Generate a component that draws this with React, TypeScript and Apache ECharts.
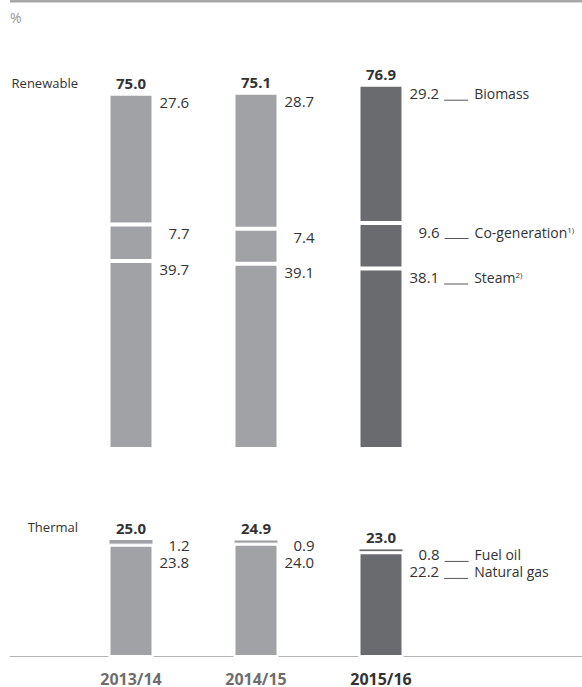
import React, { useEffect, useRef } from 'react';
import * as echarts from 'echarts';

// ---- data ----
const years = ['2013/14', '2014/15', '2015/16'];
const biomass = [27.6, 28.7, 29.2];
const cogeneration = [7.7, 7.4, 9.6];
const steam = [39.7, 39.1, 38.1];
const renewableTotal = [75.0, 75.1, 76.9];
const fuelOil = [1.2, 0.9, 0.8];
const naturalGas = [23.8, 24.0, 22.2];
const thermalTotal = [25.0, 24.9, 23.0];

const LIGHT = '#a1a2a6';
const DARK = '#6a6b6f';
const TEXT = '#333333';
const FONT = '"Open Sans", sans-serif';
const NUM_FONT_SIZE = 15;
const NUM_W = 32;
const last = years.length - 1;
const fmt = (v: number) => v.toFixed(1);
const colorFn = (p: any) => (p.dataIndex === last ? DARK : LIGHT);

let ctx: CanvasRenderingContext2D | null = null;
const measure = (s: string) => {
  if (!ctx) ctx = document.createElement('canvas').getContext('2d');
  if (!ctx) return s.length * 8;
  ctx.font = `${NUM_FONT_SIZE}px ${FONT}`;
  return ctx.measureText(s).width;
};

const RICH: any = {
  v: { fontSize: NUM_FONT_SIZE, lineHeight: 14, color: TEXT, fontFamily: FONT, verticalAlign: 'bottom' },
  sp: { width: 5, lineHeight: 14, fontSize: 14 },
  ln: { width: 24, height: 1, backgroundColor: '#555', verticalAlign: 'bottom' },
  sp2: { width: 6, lineHeight: 14, fontSize: 14 },
  t: { fontSize: 14, lineHeight: 14, color: TEXT, fontFamily: FONT, verticalAlign: 'bottom' },
  sup: { fontSize: 8, lineHeight: 10, color: TEXT, fontFamily: FONT, verticalAlign: 'top' },
  pad: { width: 0, height: 17, lineHeight: 17, fontSize: 14 },
};
for (let i = 0; i <= 40; i++) RICH['p' + i] = { width: i, lineHeight: 14, fontSize: 14 };

const num = (v: number) => {
  const s = fmt(v);
  const pad = Math.max(0, Math.min(40, Math.round(NUM_W - measure(s))));
  return `{p${pad}| }{v|${s}}`;
};

const tail = (name: string, note?: string) =>
  `{sp| }{ln| }{sp2| }{t|${name}}` + (note ? `{sup|${note}}` : '');

const baseLabel = {
  show: true,
  align: 'left',
  verticalAlign: 'top',
  lineHeight: 14,
  fontFamily: FONT,
  fontSize: 14,
  color: TEXT,
  rich: RICH,
};

const segLabel = (values: number[], name: string, note: string | undefined) => ({
  ...baseLabel,
  position: [49, 2],
  formatter: (p: any) => num(values[p.dataIndex]) + (p.dataIndex === last ? tail(name, note) : ''),
});

const thermalLabel = {
  ...baseLabel,
  position: [49, -0.5],
  formatter: (p: any) => {
    const i = p.dataIndex;
    const l1 = num(fuelOil[i]) + (i === last ? tail('Fuel oil') : '');
    const l2 = '{pad| }' + num(naturalGas[i]) + (i === last ? tail('Natural gas') : '');
    return l1 + '\n' + l2;
  },
};

const totalLabel = (totals: number[]) => ({
  show: true,
  position: 'top',
  distance: 4,
  fontFamily: FONT,
  fontSize: 15,
  fontWeight: 'bold',
  lineHeight: 14,
  color: TEXT,
  formatter: (p: any) => fmt(totals[p.dataIndex]),
});

const barBase = (w: number) => ({
  type: 'bar',
  barWidth: 45,
  barGap: '-100%',
  emphasis: { disabled: true },
  itemStyle: { color: colorFn, borderColor: '#ffffff', borderWidth: w },
});

export default function App() {
  const ref = useRef<HTMLDivElement>(null);
  useEffect(() => {
    if (!ref.current) return;
    const chart = echarts.init(ref.current, undefined, { renderer: 'svg' });
    const option: any = {
      animation: false,
      textStyle: { fontFamily: FONT },
      grid: [
        { left: 68.5, width: 375, top: 70, height: 379 },
        { left: 68.5, width: 375, top: 515.375, height: 142.125 },
        { left: 10, width: 572, top: 600, height: 56 },
      ],
      xAxis: [
        { type: 'category', gridIndex: 0, data: years, axisLine: { show: false }, axisTick: { show: false }, axisLabel: { show: false } },
        {
          type: 'category', gridIndex: 1, data: years,
          axisLine: { show: false }, axisTick: { show: false },
          axisLabel: {
            margin: 15,
            formatter: (v: string, i: number) => (i === last ? `{cur|${v}}` : `{old|${v}}`),
            rich: {
              old: { fontFamily: FONT, fontSize: 16, fontWeight: 'bold', color: '#6e6e6e', lineHeight: 14 },
              cur: { fontFamily: FONT, fontSize: 16, fontWeight: 'bold', color: '#333333', lineHeight: 14 },
            },
          },
        },
        {
          type: 'value', gridIndex: 2, min: 0, max: 1,
          axisLine: { show: true, onZero: false, lineStyle: { color: '#b4b4b4', width: 1 } },
          axisTick: { show: false }, axisLabel: { show: false }, splitLine: { show: false },
        },
      ],
      yAxis: [
        { type: 'value', gridIndex: 0, min: 0, max: 80, show: false },
        { type: 'value', gridIndex: 1, min: 0, max: 30, show: false },
        { type: 'value', gridIndex: 2, min: 0, max: 1, show: false },
      ],
      graphic: [
        { type: 'rect', left: 10, top: 0, shape: { width: 572, height: 2.5 }, style: { fill: '#a8a8a8' } },
        { type: 'text', x: 10, y: 17, style: { text: '%', fill: '#999999', font: `14px ${FONT}`, verticalAlign: 'middle' } },
        { type: 'text', x: 78, y: 83, style: { text: 'Renewable', fill: TEXT, font: `13px ${FONT}`, align: 'right', verticalAlign: 'middle' } },
        { type: 'text', x: 78, y: 527, style: { text: 'Thermal', fill: TEXT, font: `13px ${FONT}`, align: 'right', verticalAlign: 'middle' } },
      ],
      series: [
        { ...barBase(2), name: 'Steam', xAxisIndex: 0, yAxisIndex: 0, stack: 'ren', data: steam, label: segLabel(steam, 'Steam', '2)') },
        { ...barBase(2), name: 'Co-generation', xAxisIndex: 0, yAxisIndex: 0, stack: 'ren', data: cogeneration, label: segLabel(cogeneration, 'Co-generation', '1)') },
        { ...barBase(2), name: 'Biomass', xAxisIndex: 0, yAxisIndex: 0, stack: 'ren', data: biomass, label: segLabel(biomass, 'Biomass', undefined) },
        {
          type: 'bar', name: 'Renewable total', xAxisIndex: 0, yAxisIndex: 0, barWidth: 45, barGap: '-100%', silent: true,
          data: renewableTotal, itemStyle: { color: 'rgba(0,0,0,0)' }, emphasis: { disabled: true }, label: totalLabel(renewableTotal),
        },
        { ...barBase(2), name: 'Natural gas', xAxisIndex: 1, yAxisIndex: 1, stack: 'th', data: naturalGas, label: { show: false } },
        { ...barBase(1), name: 'Fuel oil', xAxisIndex: 1, yAxisIndex: 1, stack: 'th', data: fuelOil, label: thermalLabel },
        {
          type: 'bar', name: 'Thermal total', xAxisIndex: 1, yAxisIndex: 1, barWidth: 45, barGap: '-100%', silent: true,
          data: thermalTotal, itemStyle: { color: 'rgba(0,0,0,0)' }, emphasis: { disabled: true }, label: totalLabel(thermalTotal),
        },
      ],
    };
    chart.setOption(option);
    return () => chart.dispose();
  }, []);
  return (
    <div
      ref={ref}
      style={{ position: 'absolute', left: 0, top: 0, width: 582, height: 687, background: '#ffffff' }}
    />
  );
}
